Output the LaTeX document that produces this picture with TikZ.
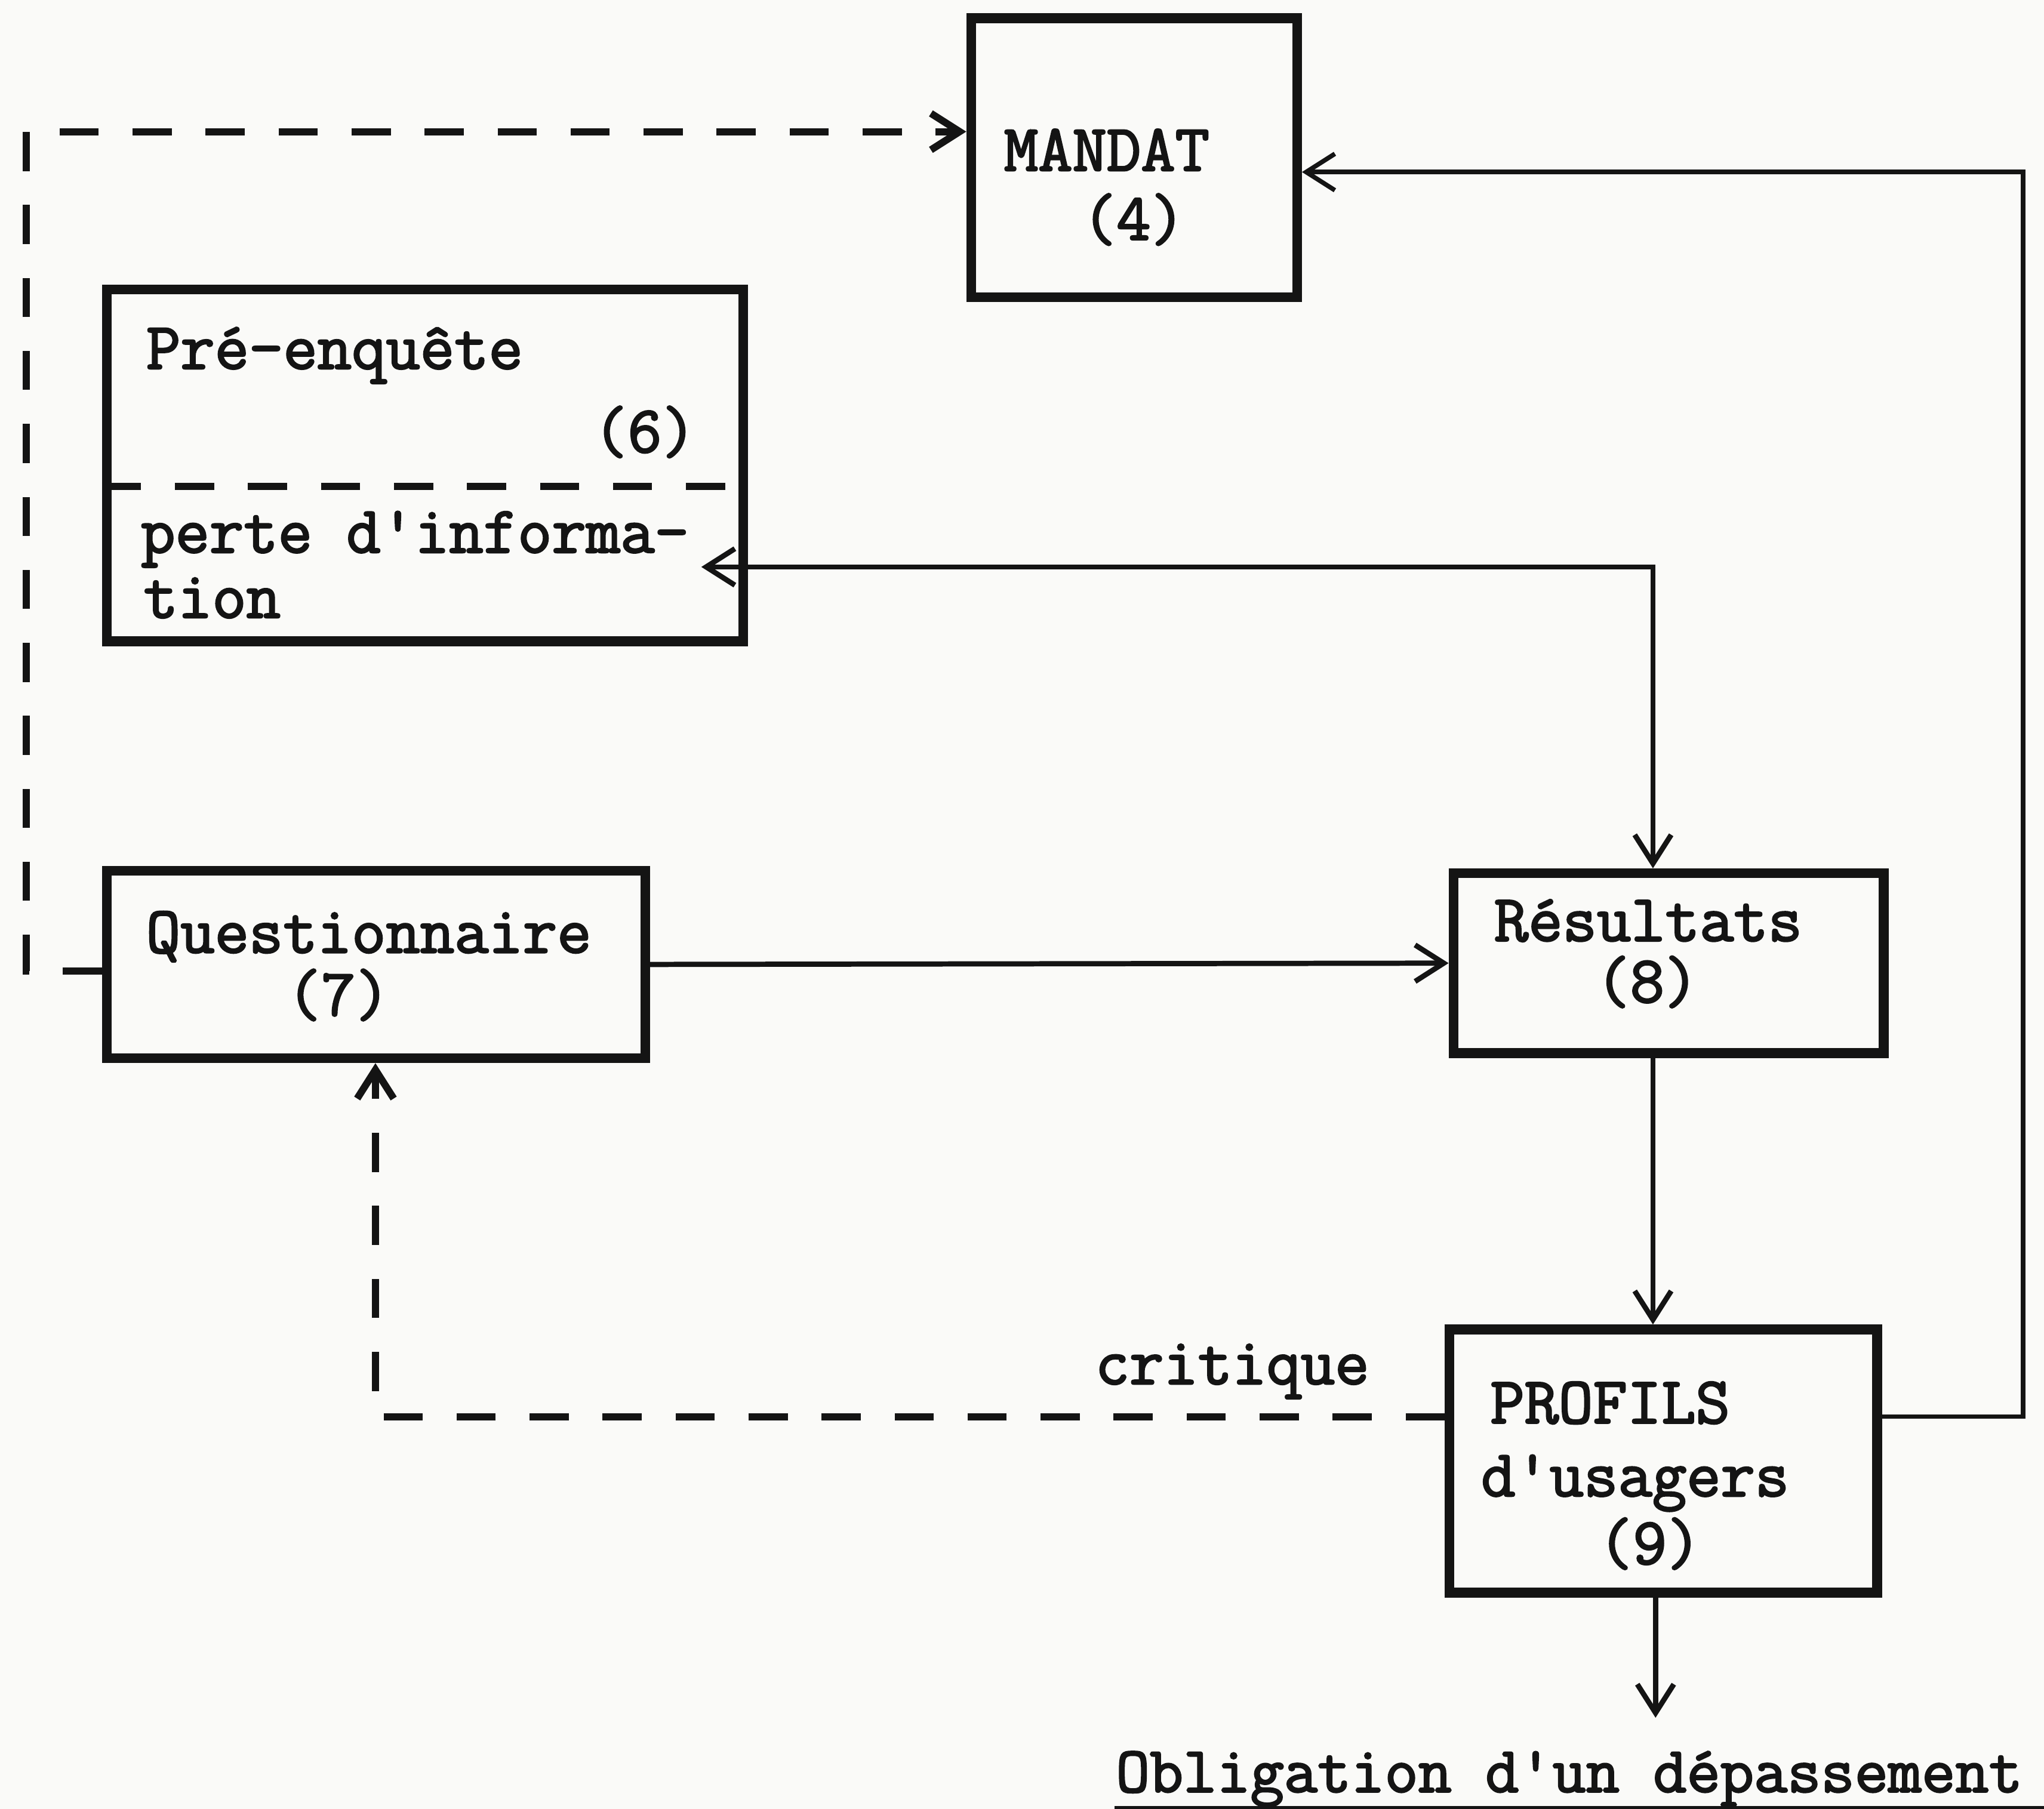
\documentclass[tikz,border=0pt]{standalone}
\usepackage{fontspec}
\newfontfamily\tw{Latin Modern Mono}[FakeBold=2.5]
\usetikzlibrary{arrows.meta}
\definecolor{ink}{RGB}{20,20,20}
\definecolor{paper}{RGB}{250,250,248}
\begin{document}
\begin{tikzpicture}[x=1pt,y=-1pt,
  box/.style={draw=ink, line width=7.5pt, rectangle, inner sep=0pt},
  lbl/.style={font=\tw\fontsize{51pt}{52pt}\selectfont, text=ink, inner sep=0pt},
  tip/.style={-{Straight Barb[length=22pt,width=28pt]}},
  conn/.style={draw=ink, line width=4pt, tip},
  dashc/.style={draw=ink, line width=5.5pt, dash pattern=on 30pt off 26pt},
]
\useasboundingbox (0,0) rectangle (1568,1388);
\fill[paper] (0,0) rectangle (1568,1388);

% boxes
\node[box, minimum width=250pt, minimum height=214pt] (mandat) at (870,121) {};
\node[box, minimum width=488pt, minimum height=270pt] (pre) at (326,357) {};
\node[box, minimum width=413pt, minimum height=144pt] (quest) at (288.5,740) {};
\node[box, minimum width=330pt, minimum height=138pt] (res) at (1280,739) {};
\node[box, minimum width=328pt, minimum height=202pt] (prof) at (1276,1121) {};

% texts
\node[lbl, anchor=base west] (tMandat) at (770,131) {MANDAT};
\node[lbl, anchor=base west] (tMandatN) at (830,184) {(4)};
\node[lbl, anchor=base west] (tPre) at (112,283) {Pré-enquête};
\node[lbl, anchor=base west] (tPreN) at (455,347) {(6)};
\node[lbl, anchor=base west] (tPerte) at (108,424) {perte d'informa-};
\node[lbl, anchor=base west] (tTion) at (110,474) {tion};
\node[lbl, anchor=base west] (tQuest) at (112,731) {Questionnaire};
\node[lbl, anchor=base west] (tQuestN) at (220,779) {(7)};
\node[lbl, anchor=base west] (tRes) at (1146,722) {Résultats};
\node[lbl, anchor=base west] (tResN) at (1224,769) {(8)};
\node[lbl, anchor=base west] (tProf) at (1143,1092) {PROFILS};
\node[lbl, anchor=base west] (tUsag) at (1136,1148) {d'usagers};
\node[lbl, anchor=base west] (tProfN) at (1226,1200) {(9)};
\node[lbl, anchor=base west] (tCrit) at (840,1062) {critique};
\node[lbl, anchor=base west, font=\tw\fontsize{50pt}{51pt}\selectfont] (tOblig) at (856,1375) {Obligation d'un dépassement};
\draw[ink, line width=3pt] (855,1387) -- (1568,1387);

% dashed divider inside Pré-enquête
\coordinate (divL) at (82,373);
\draw[dashc] (pre.west |- divL) -- (pre.east |- divL);

% coordinates for bends
\coordinate (preIn) at (538,435);
\coordinate (bendA) at (1268,435);
\coordinate (rbot) at (1552,1087);
\coordinate (rtop) at (1552,132);
\coordinate (cb) at (288,1087);
\coordinate (lb) at (20,745);
\coordinate (lt) at (20,101);
\coordinate (outp) at (1270,1318);

% connectors
\draw[conn] (quest.east) -- (res.west);
\draw[conn] ([xshift=-12pt]res.south) -- ([xshift=-8pt]prof.north);
\draw[draw=ink, line width=4pt, {Straight Barb[length=22pt,width=28pt]}-{Straight Barb[length=22pt,width=28pt]}]
  (preIn) -- (bendA) -- (bendA |- res.north);
\draw[draw=ink, line width=3.5pt, tip] (prof.east |- rbot) -- (rbot) -- (rtop) -- (mandat.east |- rtop);
\draw[dashc, tip] (prof.west |- cb) -- (cb) -- (quest.south -| cb);
\draw[dashc, tip] (quest.west |- lb) -- (lb) -- (lt) -- (mandat.west |- lt);
\draw[conn] (prof.south -| outp) -- (outp);
\end{tikzpicture}
\end{document}
